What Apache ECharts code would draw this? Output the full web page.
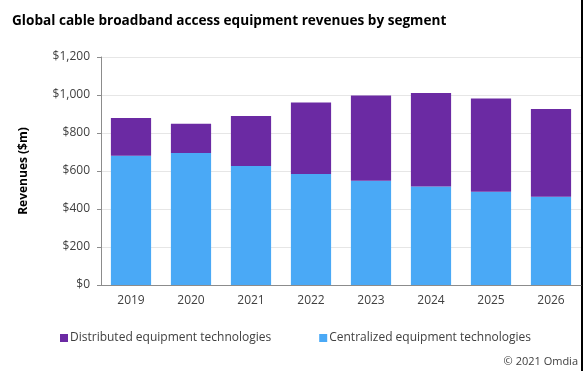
<!DOCTYPE html>
<html><head><meta charset="utf-8">
<script src="https://cdn.jsdelivr.net/npm/echarts@6/dist/echarts.min.js"></script>
<style>html,body{margin:0;padding:0;background:#fff;}#c{width:583px;height:371px;}</style>
</head><body><div id="c"></div>
<script>
const categories = ['2019','2020','2021','2022','2023','2024','2025','2026'];
const centralized = [680, 695, 626, 584, 549, 519, 491, 465];
const distributed = [199, 154, 263, 377, 449, 492, 490, 461];
const yTicks = [0, 200, 400, 600, 800, 1000, 1200];
const seriesNames = ['Distributed equipment technologies', 'Centralized equipment technologies'];

const FONT = '"Open Sans", sans-serif';
const chart = echarts.init(document.getElementById('c'), null, {renderer: 'canvas'});
chart.setOption({
  animation: false,
  backgroundColor: '#fff',
  title: {
    text: 'Global cable broadband access equipment revenues by segment',
    left: 7, top: 9,
    textStyle: {fontFamily: FONT, fontSize: 13.6, fontWeight: 'bold', color: '#000'}
  },
  grid: {left: 101, right: 2, top: 57, bottom: 86},
  legend: {
    data: seriesNames,
    left: 55, top: 327,
    icon: 'rect', itemWidth: 8, itemHeight: 8, itemGap: 48,
    textStyle: {fontFamily: FONT, fontSize: 12, color: '#404040', padding: [0,0,0,-3]}
  },
  xAxis: {
    type: 'category', data: categories,
    axisLine: {lineStyle: {color: '#8c8c8c'}},
    axisTick: {show: false},
    axisLabel: {fontFamily: FONT, fontSize: 12, color: '#404040', margin: 10}
  },
  yAxis: {
    type: 'value', min: yTicks[0], max: yTicks[yTicks.length-1], interval: 200,
    name: 'Revenues ($m)', nameLocation: 'middle', nameGap: 71,
    nameTextStyle: {fontFamily: FONT, fontSize: 12, fontWeight: 'bold', color: '#000'},
    axisLine: {show: true, lineStyle: {color: '#8c8c8c'}},
    axisTick: {show: true, length: 4, lineStyle: {color: '#8c8c8c'}},
    splitLine: {lineStyle: {color: '#e6e6e6'}},
    axisLabel: {fontFamily: FONT, fontSize: 12, color: '#404040', margin: 11,
      formatter: v => '$' + v.toLocaleString('en-US')}
  },
  series: [
    {name: seriesNames[1], type: 'bar', stack: 'a', data: centralized, barCategoryGap: '33%',
     itemStyle: {color: '#4AA9F6'}},
    {name: seriesNames[0], type: 'bar', stack: 'a', data: distributed, barCategoryGap: '33%',
     itemStyle: {color: '#6B2AA3'}}
  ],
  graphic: [
    {type: 'text', right: 5, top: 356,
     style: {text: '\u00a9 2021 Omdia', font: '11px ' + FONT, fill: '#404040'}},
    {type: 'rect', shape: {x: 581, y: 0, width: 2, height: 371}, style: {fill: '#000'}}
  ]
});
</script></body></html>
